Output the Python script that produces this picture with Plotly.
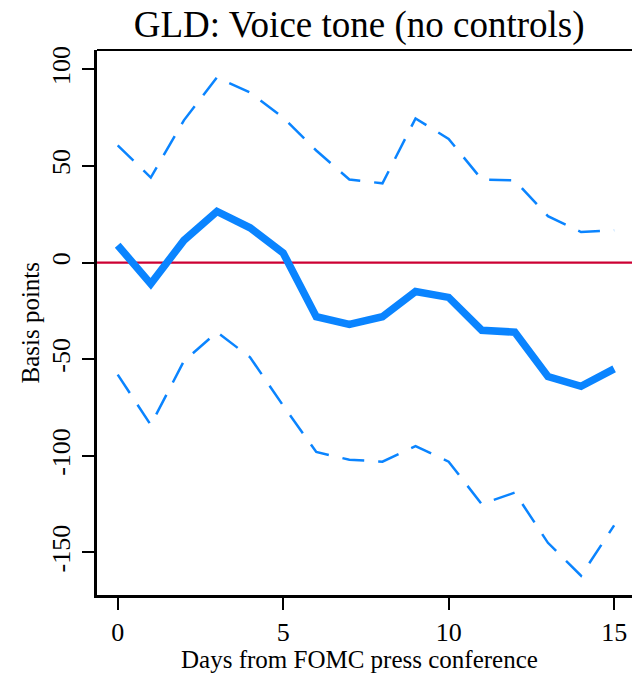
import plotly.graph_objects as go

days = list(range(16))
estimate = [9, -11, 11.5, 26.5, 18, 5, -28, -32, -28, -15, -18, -35, -36, -59, -64, -55]
upper = [60.7, 44, 73.6, 95.8, 88, 75, 58, 43, 41, 74.6, 64, 43, 42.5, 24, 15.8, 16.7]
lower = [-58, -84, -51, -36, -49, -74, -98, -102, -103, -95, -103, -125, -119, -145, -162, -136]

x_ticks = [0, 5, 10, 15]
y_ticks = [-150, -100, -50, 0, 50, 100]
y_tick_labels = ["-150", "-100", "-50", "0", "50", "100"]

title_text = "GLD: Voice tone (no controls)"
x_title = "Days from FOMC press conference"
y_title = "Basis points"

blue = "#0A84FF"
serif = "Liberation Serif, Times New Roman, serif"

fig = go.Figure()
fig.add_trace(go.Scatter(x=days, y=upper, mode="lines",
                         line=dict(color=blue, width=2.5, dash="22px,14px"),
                         showlegend=False, hoverinfo="skip"))
fig.add_trace(go.Scatter(x=days, y=lower, mode="lines",
                         line=dict(color=blue, width=2.5, dash="22px,14px"),
                         showlegend=False, hoverinfo="skip"))
fig.add_hline(y=0, line=dict(color="#CC0033", width=2.2), layer="below")
fig.add_trace(go.Scatter(x=days, y=estimate, mode="lines",
                         line=dict(color=blue, width=7.5),
                         showlegend=False))

# top border of box
fig.add_shape(type="line", xref="paper", yref="paper", x0=0, x1=1, y0=1, y1=1,
              line=dict(color="black", width=2))

fig.add_annotation(text=x_title, xref="paper", yref="paper", x=0.49, y=0,
                   xanchor="center", yanchor="middle", yshift=-64, showarrow=False,
                   font=dict(size=25, family=serif, color="black"))
fig.add_annotation(text=y_title, xref="paper", yref="paper", x=0, y=0.5,
                   xanchor="center", yanchor="middle", xshift=-67, textangle=-90,
                   showarrow=False, font=dict(size=25, family=serif, color="black"))

fig.update_layout(
    width=632, height=675,
    margin=dict(l=97, r=0, t=50, b=80),
    paper_bgcolor="white", plot_bgcolor="white",
    font=dict(family=serif, color="black"),
    title=dict(text=title_text, x=0.49, xanchor="center", y=0.965, yanchor="middle",
               xref="paper", font=dict(size=37, family=serif, color="black")),
    xaxis=dict(range=[-0.625, 15.54], tickvals=x_ticks, ticks="outside", ticklen=12,
               tickwidth=1.6, tickcolor="black", showline=True, linewidth=2.6,
               linecolor="black", showgrid=False, zeroline=False, automargin=False,
               ticklabelstandoff=0,
               tickfont=dict(size=26, family=serif, color="black")),
    yaxis=dict(range=[-172, 110], tickvals=y_ticks, ticktext=y_tick_labels,
               ticks="outside", ticklen=12,
               tickwidth=1.6, tickcolor="black", showline=True, linewidth=2.6,
               linecolor="black", showgrid=False, zeroline=False, tickangle=-90,
               automargin=False, ticklabelstandoff=2,
               tickfont=dict(size=26, family=serif, color="black")),
)

fig.write_html("out.html", post_script="document.body.style.margin='0px';",
               config={"displayModeBar": False})
